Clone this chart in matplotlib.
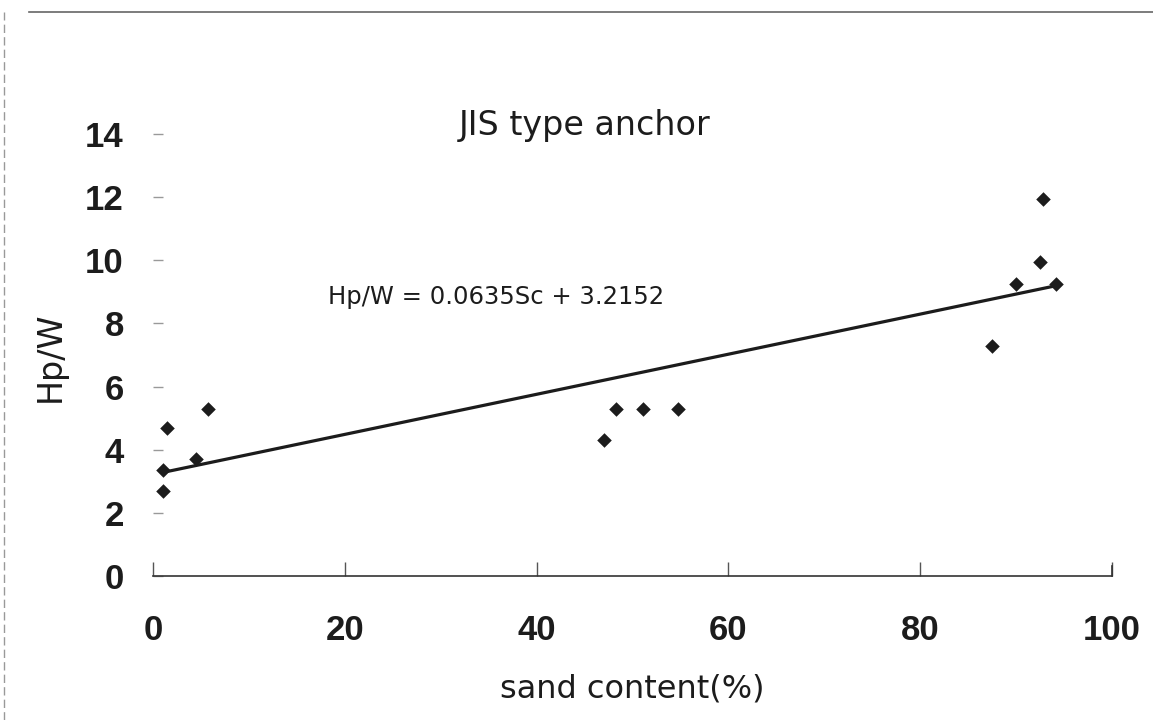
import matplotlib.pyplot as plt
import numpy as np

# data
sand = [1.0, 1.0, 1.5, 4.5, 5.7, 47.0, 48.3, 51.1, 54.7, 87.5, 90.0, 92.5, 92.8, 94.2]
hpw = [2.7, 3.35, 4.7, 3.7, 5.3, 4.3, 5.3, 5.3, 5.3, 7.3, 9.25, 9.95, 11.95, 9.25]
slope = 0.0635
intercept = 3.2152
xticks = [0, 20, 40, 60, 80, 100]
yticks = [0, 2, 4, 6, 8, 10, 12, 14]

plt.rcParams['font.family'] = ['Liberation Sans', 'DejaVu Sans']
ink = '#1c1c1c'
label_font = 'DejaVu Sans'

fig = plt.figure(figsize=(11.53, 7.2), dpi=100)
ax = fig.add_axes([0.1327, 0.2, 0.8318, 0.6139])

ax.scatter(sand, hpw, marker='D', s=55, color=ink, zorder=3, linewidths=0)
fx = np.array([min(sand), max(sand)])
ax.plot(fx, slope * fx + intercept, color=ink, lw=2.3, zorder=2)

ax.set_xlim(0, 100)
ax.set_ylim(0, 14)
ax.set_xticks(xticks)
ax.set_yticks(yticks)
ax.tick_params(axis='x', direction='in', length=10, width=1, color='#555555',
               labelsize=25, pad=27, labelcolor=ink)
ax.tick_params(axis='y', direction='in', length=7, width=1, color='#999999',
               labelsize=25, pad=21, labelcolor=ink)
for lab in ax.get_xticklabels() + ax.get_yticklabels():
    lab.set_fontweight('bold')
for s in ['top', 'right', 'left']:
    ax.spines[s].set_visible(False)
ax.spines['bottom'].set_color('#333333')
ax.spines['bottom'].set_linewidth(1.2)
# right end tick of the x axis
ax.plot([100, 100], [0, 0.32], color='#333333', lw=1.2, clip_on=False)

ax.text(18.2, 8.83, 'Hp/W = 0.0635Sc + 3.2152', fontsize=17.5, va='center', ha='left',
        color=ink, family=label_font)

fig.text(0.507, 0.826, 'JIS type anchor', fontsize=24, ha='center', va='center',
         color=ink, family=label_font)
fig.text(0.548, 0.043, 'sand content(%)', fontsize=23, ha='center', va='center',
         color=ink, family=label_font)
fig.text(0.0434, 0.504, 'Hp/W', fontsize=24, ha='center', va='center', rotation=90,
         color=ink, family=label_font)

# frame left over from the scan
fig.add_artist(plt.Line2D([0.025, 1.0], [0.983, 0.983], color='#666666', lw=1.2,
                          transform=fig.transFigure))
fig.add_artist(plt.Line2D([0.0035, 0.0035], [0.0, 0.983], color='#999999', lw=1,
                          ls=(0, (6, 3)), transform=fig.transFigure))

fig.savefig('out.png', dpi=100)
